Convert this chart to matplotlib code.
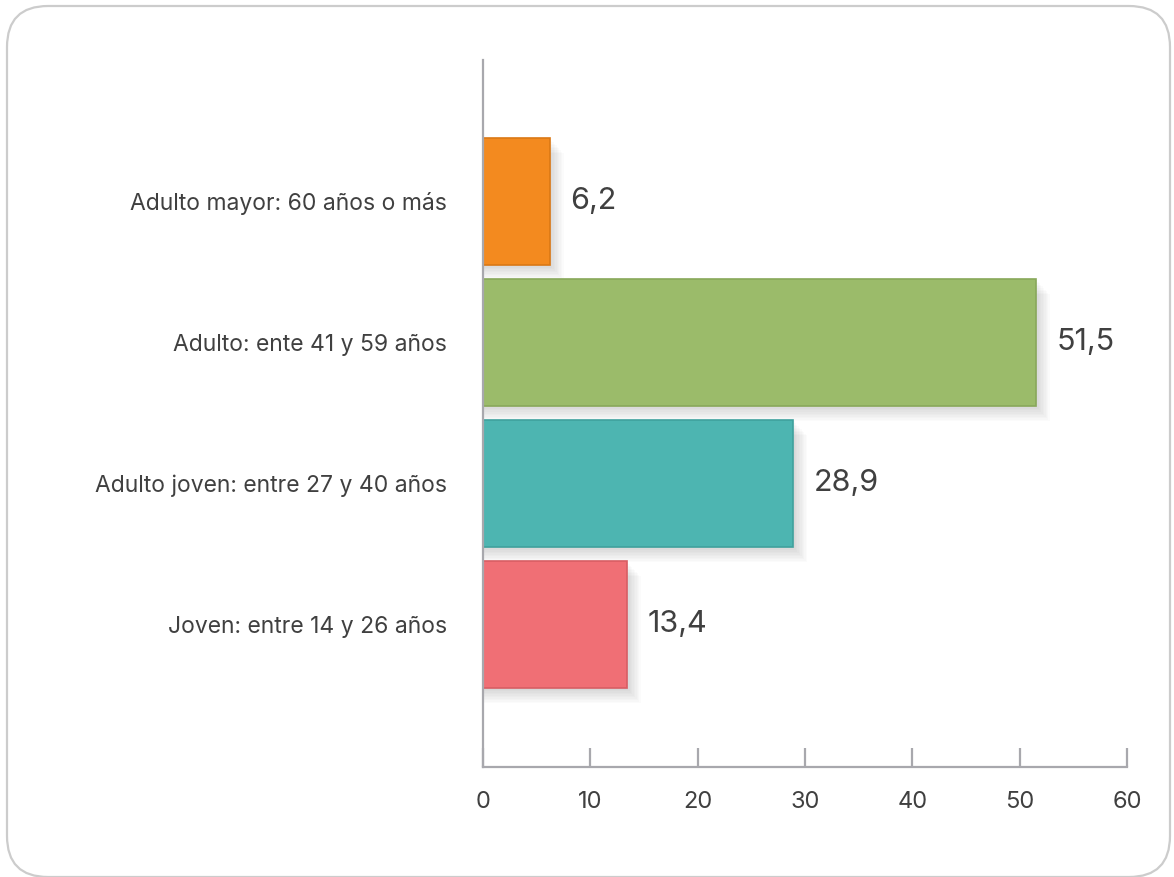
import matplotlib.pyplot as plt
from matplotlib.patches import FancyBboxPatch

# data
categories = ["Joven: entre 14 y 26 años", "Adulto joven: entre 27 y 40 años",
              "Adulto: ente 41 y 59 años", "Adulto mayor: 60 años o más"]
values = [13.4, 28.9, 51.5, 6.2]
colors = ["#F06F75", "#4DB5B1", "#9BBB6A", "#F38A1F"]
edge_colors = ["#D85E64", "#3FA19D", "#88A85A", "#DA7815"]
x_ticks = [0, 10, 20, 30, 40, 50, 60]

plt.rcParams['font.family'] = ['Inter', 'DejaVu Sans']
text_color = "#404040"
axis_color = "#A8A8AD"

fig = plt.figure(figsize=(11.74, 8.77), dpi=100)

# rounded frame around the chart
frame = FancyBboxPatch((7 / 1174, 0 / 877), 1163 / 1174, 871 / 877,
                       boxstyle="round,pad=0,rounding_size=0.035",
                       transform=fig.transFigure, facecolor="none",
                       edgecolor="#CCCCCC", linewidth=1.6, zorder=-10,
                       mutation_aspect=1174 / 877)
fig.patches.append(frame)

ax = fig.add_axes([483 / 1174, 110 / 877, 644 / 1174, 707 / 877])
ax.set_facecolor("none")

pos = list(range(len(categories)))

# soft drop shadow
for k in range(1, 11):
    ax.barh([p - 0.011 * k for p in pos], [v + 0.13 * k for v in values],
            height=0.9, color="black", alpha=0.016, zorder=1)

ax.barh(pos, values, height=0.9, color=colors, edgecolor=edge_colors,
        linewidth=1.2, zorder=3)

for p, v in zip(pos, values):
    ax.annotate(f"{v:.1f}".replace(".", ","), (v, p), xytext=(15, 0),
                textcoords="offset points", va="center", ha="left",
                fontsize=22, color=text_color)

ax.set_xlim(0, 60)
ax.set_ylim(-1.01, 4.0)
ax.set_xticks(x_ticks)
ax.set_yticks(pos)
ax.set_yticklabels(categories)

for s in ["top", "right"]:
    ax.spines[s].set_visible(False)
for s in ["left", "bottom"]:
    ax.spines[s].set_color(axis_color)
    ax.spines[s].set_linewidth(1.6)
    ax.spines[s].set_zorder(4)

ax.tick_params(axis="x", direction="in", length=14, width=1.6, color=axis_color,
               pad=17, labelsize=17, labelcolor=text_color)
ax.tick_params(axis="y", length=0, pad=26, labelsize=16.5, labelcolor=text_color)

fig.savefig("out.png", dpi=100)
